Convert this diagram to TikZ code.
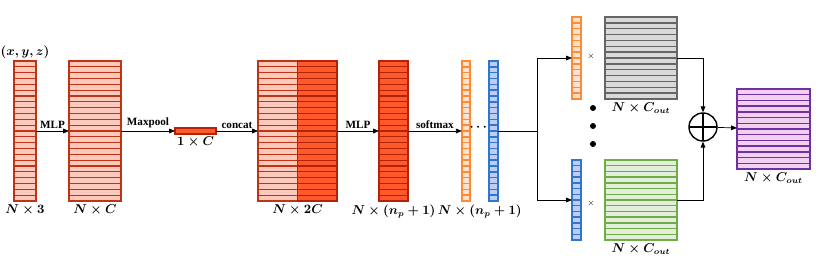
\documentclass[tikz,border=0pt]{standalone}
\usepackage{amsmath,amssymb}
\usepackage{fontspec}
\setmainfont{Liberation Serif}
\usepackage{tikz}
\usetikzlibrary{positioning, arrows.meta, calc}
\definecolor{SalmonFill}{RGB}{251,202,188}
\definecolor{RustEdge}{RGB}{192,52,22}
\definecolor{FlameFill}{RGB}{255,88,42}
\definecolor{FlameEdge}{RGB}{178,36,10}
\definecolor{OrangeEdge}{RGB}{255,138,50}
\definecolor{OrangeFill}{RGB}{253,226,208}
\definecolor{BlueEdge}{RGB}{48,118,208}
\definecolor{BlueFill}{RGB}{190,205,242}
\definecolor{GrayEdge}{RGB}{102,102,102}
\definecolor{GrayFill}{RGB}{217,217,217}
\definecolor{GreenEdge}{RGB}{112,173,71}
\definecolor{GreenFill}{RGB}{226,239,218}
\definecolor{PurpleEdge}{RGB}{112,48,160}
\definecolor{PurpleFill}{RGB}{242,208,242}
\tikzset{
  blk/.style={draw=none, inner sep=0pt, outer sep=0pt, minimum height=4.2cm},
  sqblk/.style={draw=none, inner sep=0pt, outer sep=0pt},
  arr/.style={-{Triangle[length=5pt,width=4pt]}, semithick, black},
  plainline/.style={thick, black},
  oplbl/.style={font=\fontsize{9.5}{11}\selectfont\bfseries, inner sep=2pt},
  dimlbl/.style={font=\fontsize{10.5}{12.5}\selectfont\boldmath, inner sep=2pt},
  sumnode/.style={circle, draw, line width=1.2pt, minimum size=0.84cm, inner sep=0pt,
    path picture={\draw[line width=1.2pt] (path picture bounding box.north) -- (path picture bounding box.south)
      (path picture bounding box.west) -- (path picture bounding box.east);}},
}
% striped column: node, cells, fill, edge, line width
\newcommand{\cellcol}[5]{%
  \foreach \k in {1,...,#2}{
    \pgfmathsetmacro\ta{(\k-1)/#2}
    \pgfmathsetmacro\tb{\k/#2}
    \draw[fill=#3, draw=#4, line width=#5]
      ($(#1.north west)!\ta!(#1.south west)$) rectangle ($(#1.north east)!\tb!(#1.south east)$);
  }
  \draw[draw=#4, line width=#5] (#1.north west) rectangle (#1.south east);
}

\begin{document}
\begin{tikzpicture}[x=0.03cm, y=-0.03cm]
  \useasboundingbox (0,0) rectangle (830,277);

  % main row
  \node[blk, minimum width=0.66cm] (inp) at (25,131) {};
  \node[blk, minimum width=1.56cm] (nc) at (95,131) {};
  \node[sqblk, minimum width=1.23cm, minimum height=0.18cm] (onec) at (195.5,131) {};
  \node[blk, minimum width=1.185cm] (twocl) at (277.75,131) {};
  \node[blk, minimum width=1.185cm] (twocr) at (317.25,131) {};
  \node[blk, minimum width=0.87cm] (npl) at (393.5,131) {};
  \node[blk, minimum width=0.25cm] (soa) at (466,131) {};
  \node[blk, minimum width=0.26cm] (sob) at (493.5,131) {};

  \cellcol{inp}{24}{SalmonFill}{RustEdge}{1.1pt}
  \cellcol{nc}{24}{SalmonFill}{RustEdge}{1.1pt}
  \cellcol{onec}{1}{FlameFill}{FlameEdge}{1.1pt}
  \cellcol{twocl}{24}{SalmonFill}{RustEdge}{1.1pt}
  \cellcol{twocr}{24}{FlameFill}{FlameEdge}{1.1pt}
  \cellcol{npl}{24}{FlameFill}{FlameEdge}{1.1pt}
  \cellcol{soa}{24}{OrangeFill}{OrangeEdge}{1.2pt}
  \cellcol{sob}{24}{BlueFill}{BlueEdge}{1.2pt}

  \node[dimlbl, above=0pt of inp] (xyz) {$(x,y,z)$};
  \node[dimlbl, below=0.03cm of inp] (linp) {$N\times 3$};
  \node[dimlbl, below=0.03cm of nc] (lnc) {$N\times C$};
  \node[dimlbl, below=0pt of onec] (lonec) {$1\times C$};
  \node[dimlbl, below=0.03cm of twocl.south east] (ltwoc) {$N\times 2C$};
  \node[dimlbl, below=0.03cm of npl] (lnpl) {$N\times (n_p+1)$};
  \node[dimlbl, below=0.03cm of $(soa.south)!0.5!(sob.south)$] (lso) {$N\times (n_p+1)$};
  \node[dimlbl] (ell) at (479.5,127) {$\cdots$};

  \draw[arr] (inp) -- node[oplbl, above] {MLP} (nc);
  \draw[arr] (nc) -- node[oplbl, above] {Maxpool} (onec);
  \draw[arr] (onec) -- node[oplbl, above] {concat} (twocl);
  \draw[arr] (twocr) -- node[oplbl, above] {MLP} (npl);
  \draw[arr] (npl) -- node[oplbl, above] {softmax} (soa);

  % branches
  \coordinate (br) at (537,131);
  \node[sqblk, minimum width=0.27cm, minimum height=2.46cm] (wa) at (576.5,58) {};
  \node[sqblk, minimum width=2.16cm, minimum height=2.46cm] (fa) at (641,58) {};
  \node[sqblk, minimum width=0.27cm, minimum height=2.4cm] (wb) at (576.5,200) {};
  \node[sqblk, minimum width=2.16cm, minimum height=2.4cm] (fb) at (641,200) {};
  \node[sumnode] (sum) at (703,127) {};
  \node[sqblk, minimum width=2.19cm, minimum height=2.4cm] (outb) at (773.5,129) {};

  \cellcol{wa}{14}{OrangeFill}{OrangeEdge}{1.2pt}
  \cellcol{fa}{14}{GrayFill}{GrayEdge}{1.2pt}
  \cellcol{wb}{14}{BlueFill}{BlueEdge}{1.2pt}
  \cellcol{fb}{14}{GreenFill}{GreenEdge}{1.2pt}
  \cellcol{outb}{14}{PurpleFill}{PurpleEdge}{1.2pt}

  \node[font=\scriptsize] (xa) at (591,56) {$\times$};
  \node[font=\scriptsize] (xb) at (591,203) {$\times$};
  \foreach \y in {108,126,144}
    {\fill (593,\y) circle (0.09cm);}

  \node[dimlbl, below=0.03cm of fa] (lfa) {$N\times C_{out}$};
  \node[dimlbl, below=0.03cm of fb] (lfb) {$N\times C_{out}$};
  \node[dimlbl, below=0.03cm of outb] (lout) {$N\times C_{out}$};

  \draw[plainline] (sob) -- (br);
  \draw[arr] (br) |- (wa);
  \draw[arr] (br) |- (wb);
  \draw[arr] (fa) -| (sum);
  \draw[arr] (fb) -| (sum);
  \draw[arr] (sum) -- (outb);
\end{tikzpicture}
\end{document}
